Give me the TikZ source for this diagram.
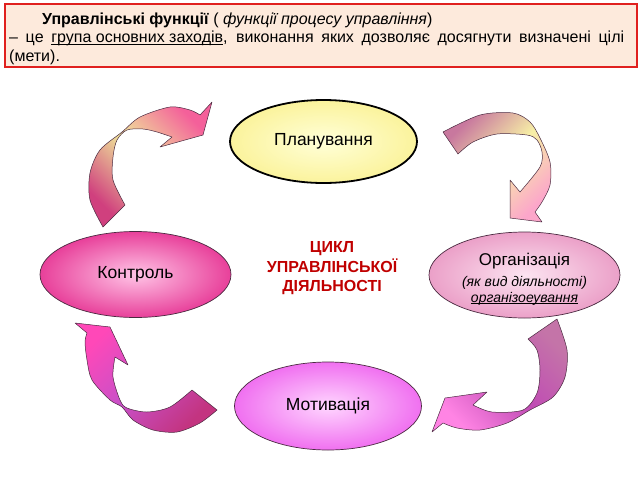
\documentclass[tikz,border=0pt]{standalone}
\usepackage{fontspec}
\setmainfont{Liberation Sans}
\usetikzlibrary{shapes.geometric}
\definecolor{boxred}{HTML}{E0201E}
\definecolor{boxfill}{HTML}{FDEADC}
\definecolor{cycred}{HTML}{C00000}
\definecolor{edgec}{HTML}{4A2A40}
\definecolor{plin}{HTML}{FFFFD8}
\definecolor{plout}{HTML}{FBF39C}
\definecolor{kin}{HTML}{FFC4E6}
\definecolor{kout}{HTML}{E8409A}
\definecolor{oin}{HTML}{FCE4F1}
\definecolor{oout}{HTML}{EBA0C8}
\definecolor{motin}{HTML}{FFD6FF}
\definecolor{motout}{HTML}{F070F0}
\definecolor{a1head}{HTML}{F4609A}
\definecolor{a1mid}{HTML}{EFE79A}
\definecolor{a1tail}{HTML}{D0407E}
\definecolor{a2tail}{HTML}{C8789E}
\definecolor{a2mid}{HTML}{F7F0A6}
\definecolor{a2head}{HTML}{FCA6CA}
\definecolor{a3tail}{HTML}{C474A8}
\definecolor{a3mid}{HTML}{C04CB4}
\definecolor{a3head}{HTML}{FF84E4}
\definecolor{a4head}{HTML}{FF48B8}
\definecolor{a4mid}{HTML}{C850C8}
\definecolor{a4tail}{HTML}{C33480}
\newcommand{\subfont}{\fontsize{14}{16}\selectfont\itshape}
\newcommand{\lowline}[1]{\underline{\smash{#1}}}

\begin{document}
\begin{tikzpicture}[x=1pt,y=-1pt,
  stage/.style={ellipse, inner sep=0pt, minimum width=191pt, minimum height=86pt,
    draw=edgec, line width=0.7pt, font=\fontsize{17.5}{20}\selectfont},
  ribbon/.style={draw=edgec, line width=0.5pt, line join=round}]
\useasboundingbox (0,0) rectangle (640,480);

% definition box
\node[draw=boxred, line width=1.6pt, fill=boxfill, anchor=north west, inner sep=0pt,
  minimum width=632pt, minimum height=63pt] (defbox) at (4,3) {};
\node[anchor=north west, inner sep=0pt, text width=615pt, align=justify,
  font=\fontsize{16}{18.5}\selectfont] (deftext) at (9,12.5)
  {\hspace*{33pt}\textbf{Управлінські функції} ( \textit{функції процесу управління})\\
   – це \lowline{група основних заходів}, виконання яких дозволяє досягнути визначені цілі\linebreak
   (мети).};

% stages
\node[stage, minimum width=187pt, minimum height=83pt, draw=black, line width=1.8pt,
  inner color=plin, outer color=plout] (plan) at (323.5,141.5) {Планування};
\node[stage, inner color=kin, outer color=kout] (control) at (135.5,274.5) {Контроль};
\node[stage, inner color=oin, outer color=oout] (org) at (524.5,275) {};
\node[align=center, font=\fontsize{17}{20}\selectfont] (orgtext) at ([yshift=-3.5pt]org.center)
  {Організація\\[1pt]\subfont (як вид діяльності)\\[-4pt]\subfont\lowline{організоеування}};
\node[stage, minimum width=187pt, minimum height=88pt, inner color=motin, outer color=motout]
  (motiv) at (328,406) {Мотивація};

\node[text=cycred, align=center, font=\bfseries\fontsize{16}{19.5}\selectfont] (cycle)
  at (332,268.5) {ЦИКЛ\\УПРАВЛІНСЬКОЇ\\ДІЯЛЬНОСТІ};

% curved arrows
\shadedraw[ribbon, top color=a1head, bottom color=a1tail, middle color=a1mid, shading angle=-45]
  plot[smooth] coordinates {(103,227) (90,200) (90,173) (100,150) (122,132) (140,117) (170,107) (190,110) (200,115)}
  -- (212,102) -- (203,135) -- (160,147)
  -- plot[smooth] coordinates {(172,137) (157,132) (143,129) (127,130) (117,140) (113,157) (113,180) (125,205)} -- cycle;

\shadedraw[ribbon, top color=a2tail, bottom color=a2head, middle color=a2mid, shading angle=45]
  plot[smooth] coordinates {(443,132) (480,115) (513,113) (530,122) (540,138) (550,162) (550,185) (542,202) (535,212)}
  -- (542,222) -- (510,218) -- (510,180)
  -- plot[smooth] coordinates {(520,192) (540,167) (542,152) (537,140) (527,135) (497,134) (473,142) (458,154)} -- cycle;

\shadedraw[ribbon, top color=a3tail, bottom color=a3head, middle color=a3mid, shading angle=-45]
  plot[smooth] coordinates {(557,319) (567,350) (565,377) (553,397) (530,410) (507,423) (480,430) (457,428) (443,423)}
  -- (432,432) -- (445,398) -- (487,392)
  -- plot[smooth] coordinates {(473,405) (492,412) (523,410) (537,393) (540,370) (537,350) (528,339)} -- cycle;

\shadedraw[ribbon, top color=a4head, bottom color=a4tail, middle color=a4mid, shading angle=45]
  plot[smooth] coordinates {(217,410) (200,423) (177,432) (153,430) (133,420) (122,407) (110,400) (92,380) (87,360) (85,342) (87,333)}
  -- (75,323) -- (110,327) -- (128,365)
  -- plot[smooth] coordinates {(115,357) (113,377) (120,400) (127,408) (147,412) (170,407) (192,390)} -- cycle;
\end{tikzpicture}
\end{document}
